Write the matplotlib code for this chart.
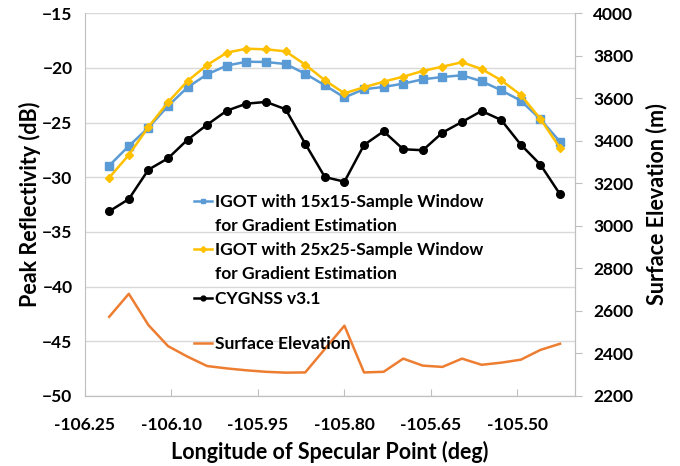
import matplotlib.pyplot as plt
from matplotlib.lines import Line2D

plt.rcParams["font.family"] = ["Lato", "DejaVu Sans"]

# Longitude of each specular point sample (deg)
longitude = [-106.208 + 0.034 * i for i in range(24)]

# Peak reflectivity (dB)
igot_15 = [-28.94, -27.14, -25.47, -23.48, -21.77, -20.58, -19.79, -19.43,
           -19.46, -19.64, -20.53, -21.59, -22.70, -21.95, -21.74, -21.44,
           -21.04, -20.83, -20.67, -21.22, -22.05, -23.00, -24.70, -26.75]
igot_25 = [-30.04, -27.96, -25.40, -23.14, -21.19, -19.73, -18.60, -18.24,
           -18.30, -18.48, -19.70, -21.13, -22.32, -21.77, -21.26, -20.80,
           -20.28, -19.88, -19.48, -20.10, -21.13, -22.47, -24.67, -27.32]
cygnss = [-33.12, -32.00, -29.31, -28.27, -26.56, -25.19, -23.91, -23.27,
          -23.11, -23.78, -26.93, -29.98, -30.41, -27.05, -25.80, -27.44,
          -27.53, -25.92, -24.94, -23.94, -24.76, -27.02, -28.85, -31.56]

# Surface elevation (m)
elevation = [2572, 2680, 2533, 2434, 2384, 2340, 2329, 2320, 2313, 2309,
             2310, 2420, 2530, 2310, 2313, 2375, 2342, 2336, 2375, 2346,
             2356, 2370, 2416, 2445]

x_ticks = [-106.25, -106.10, -105.95, -105.80, -105.65, -105.50]

fig = plt.figure(figsize=(6.8, 4.66), dpi=100)
ax = fig.add_axes([0.125, 0.1506, 0.7206, 0.8209])
ax2 = ax.twinx()

blue = "#5B9BD5"
yellow = "#FFC000"
orange = "#ED7D31"

ax.plot(longitude, igot_15, color=blue, lw=1.8, marker="s", ms=5.5, zorder=3)
ax.plot(longitude, igot_25, color=yellow, lw=1.8, marker="D", ms=4.2, zorder=4)
ax.plot(longitude, cygnss, color="black", lw=1.8, marker="o", ms=5.5, zorder=5)
ax2.plot(longitude, elevation, color=orange, lw=1.8)

ax.set_xlim(-106.25, -105.40)
ax.set_ylim(-50, -15)
ax.set_yticks(range(-50, -14, 5))
ax.set_xticks(x_ticks)
ax.set_xticklabels([f"{t:.2f}" for t in x_ticks])
ax2.set_ylim(2200, 4000)
ax2.set_yticks(range(2200, 4001, 200))

ax.grid(axis="y", color="#d9d9d9", lw=1)
ax.set_axisbelow(True)

for a in (ax, ax2):
    a.spines["top"].set_visible(False)
    for s in ("left", "right", "bottom"):
        a.spines[s].set_color("#bfbfbf")
ax2.spines["left"].set_visible(False)

ax.tick_params(axis="x", direction="in", length=5, color="#bfbfbf",
               labelsize=12.5, pad=15)
ax.tick_params(axis="y", length=0, labelsize=12.5, pad=9)
ax2.tick_params(axis="y", direction="out", length=5, color="#bfbfbf",
                labelsize=12.5, pad=8)
for lbl in ax.get_xticklabels() + ax.get_yticklabels() + ax2.get_yticklabels():
    lbl.set_fontweight("bold")

ax.set_xlabel("Longitude of Specular Point (deg)", fontsize=15.5,
              fontweight="bold", labelpad=6)
ax.set_ylabel("Peak Reflectivity (dB)", fontsize=15.5, fontweight="bold",
              labelpad=1)
ax2.set_ylabel("Surface Elevation (m)", fontsize=15.5, fontweight="bold",
               labelpad=9)

# legend: wrapped labels get their own rows so the marker sits on the first line
blank = Line2D([], [], color="none")
handles = [
    Line2D([], [], color=blue, lw=1.8, marker="s", ms=3.5), blank,
    Line2D([], [], color=yellow, lw=1.8, marker="D", ms=3), blank,
    Line2D([], [], color="black", lw=1.8, marker="o", ms=3.5),
]
labels = ["IGOT with 15x15-Sample Window", "for Gradient Estimation",
          "IGOT with 25x25-Sample Window", "for Gradient Estimation",
          "CYGNSS v3.1"]
leg_style = dict(loc="upper left", bbox_transform=fig.transFigure,
                 frameon=False, prop={"size": 12.5, "weight": "bold"},
                 handlelength=1.03, handletextpad=0.17, labelspacing=0.47,
                 borderpad=0, borderaxespad=0)
leg = ax2.legend(handles, labels, bbox_to_anchor=(194 / 680, 1 - 194 / 466),
                 **leg_style)
ax2.add_artist(leg)
ax2.legend([Line2D([], [], color=orange, lw=1.8)], ["Surface Elevation"],
           bbox_to_anchor=(194 / 680, 1 - 336 / 466), **leg_style)

fig.savefig("out.png", dpi=100)
